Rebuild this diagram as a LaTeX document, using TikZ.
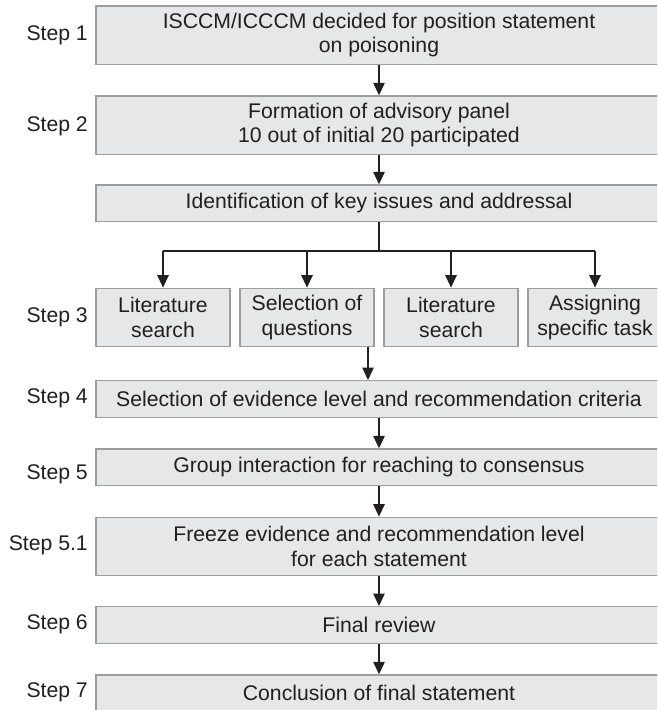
\documentclass[tikz,border=0pt]{standalone}
\usepackage{fontspec}
\setmainfont{Liberation Sans}
\usetikzlibrary{arrows.meta,calc}
\definecolor{boxfill}{HTML}{E6E7E8}
\definecolor{boxline}{HTML}{9D9D9D}
\definecolor{ink}{HTML}{231F20}
\begin{document}
\begin{tikzpicture}[x=1pt,y=-1pt,
  every node/.style={font=\fontsize{21.2}{24.3}\selectfont, text=ink},
  widebox/.style={draw=boxline, fill=boxfill, line width=1.4pt, minimum width=566pt, inner sep=0pt, align=center},
  smallbox/.style={draw=boxline, fill=boxfill, line width=1.4pt, minimum width=134pt, minimum height=58.4pt, inner sep=0pt, align=center},
  steplabel/.style={anchor=east, inner sep=0pt},
  flow/.style={draw=ink, line width=1.3pt, -{Triangle[length=12.5pt,width=11.5pt]}},
  plainline/.style={draw=ink, line width=1.3pt}
]
\useasboundingbox (0,0) rectangle (657,710);
\clip (0,0) rectangle (657,710);
\fill[white] (0,0) rectangle (657,710);

% main boxes
\node[widebox, minimum height=58.3pt] (b1) at (379,35.15) {ISCCM/ICCCM decided for position statement\\on poisoning};
\node[widebox, minimum height=58.3pt] (b2) at (379,125.15) {Formation of advisory panel\\10 out of initial 20 participated};
\node[widebox, minimum height=36.7pt] (b3) at (379,203.35) {Identification of key issues and addressal};

% step 3 boxes
\node[smallbox] (s1) at (163,317.5) {Literature\\search};
\node[smallbox] (s2) at (307,317.5) {Selection of\\questions};
\node[smallbox] (s3) at (451,317.5) {Literature\\search};
\node[smallbox] (s4) at (595,317.5) {Assigning\\specific task};

\node[widebox, minimum height=36.6pt] (b4) at (379,399) {Selection of evidence level and recommendation criteria};
\node[widebox, minimum height=36.7pt] (b5) at (379,467.35) {Group interaction for reaching to consensus};
\node[widebox, minimum height=58.4pt] (b51) at (379,546.5) {Freeze evidence and recommendation level\\for each statement};
\node[widebox, minimum height=36.6pt] (b6) at (379,625) {Final review};
\node[widebox, minimum height=36.7pt] (b7) at (379,693.35) {Conclusion of final statement};

% step labels
\node[steplabel] (l1) at (88,35) {Step 1};
\node[steplabel] (l2) at (88,126) {Step 2};
\node[steplabel] (l3) at (88,317) {Step 3};
\node[steplabel] (l4) at (88,398) {Step 4};
\node[steplabel] (l5) at (88,474) {Step 5};
\node[steplabel] (l51) at (88,545) {Step 5.1};
\node[steplabel] (l6) at (88,624) {Step 6};
\node[steplabel] (l7) at (88,692) {Step 7};

% connectors
\draw[flow] (b1.south) -- (b2.north);
\draw[flow] (b2.south) -- (b3.north);
\coordinate (br) at (379,251);
\draw[plainline] (b3.south) -- (br);
\draw[plainline] (br -| s1.north) -- (br -| s4.north);
\draw[flow] (br -| s1.north) -- (s1.north);
\draw[flow] (br -| s2.north) -- (s2.north);
\draw[flow] (br -| s3.north) -- (s3.north);
\draw[flow] (br -| s4.north) -- (s4.north);
\coordinate (qs) at (368,346.7);
\draw[flow] (qs) -- (qs |- b4.north);
\draw[flow] (b4.south) -- (b5.north);
\draw[flow] (b5.south) -- (b51.north);
\draw[flow] (b51.south) -- (b6.north);
\draw[flow] (b6.south) -- (b7.north);
\end{tikzpicture}
\end{document}
